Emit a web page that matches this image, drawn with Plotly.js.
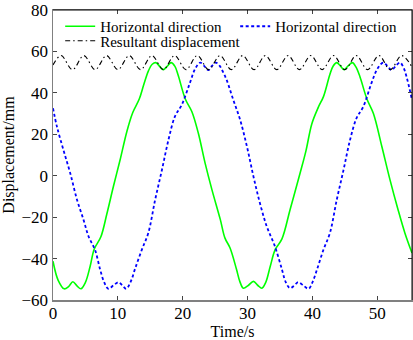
<!DOCTYPE html>
<html>
<head>
<meta charset="utf-8">
<script src="https://cdn.plot.ly/plotly-3.0.1.min.js"></script>
<style>html,body{margin:0;padding:0;background:#fff;}#chart{width:413px;height:340px;}</style>
</head>
<body>
<div id="chart"></div>
<script>
// Horizontal direction (green)
var greenT = [0, 0.8, 1.73, 2.4, 3.06, 3.7, 4.3, 5.0, 5.73, 6.35, 7.38, 8.3, 9.32, 10.35, 11.4, 12.3, 13.3, 14.0, 14.7, 15.3, 15.85, 16.45, 17.0, 17.6, 18.2, 18.8, 19.3, 20.4, 21.4, 22.4, 23.45, 24.5, 25.8, 26.5, 27.3, 28.3, 28.8, 29.35, 30.1, 30.9, 31.6, 32.2, 32.8, 33.5, 34.25, 35.3, 36.55, 38.1, 39.0, 39.9, 40.9, 41.7, 42.7, 43.2, 43.75, 44.3, 44.9, 45.5, 46.15, 46.7, 47.3, 48.4, 49.4, 50.7, 51.95, 53.2, 54.25, 55.35];
var greenV = [-41.3, -50.5, -54.6, -53.5, -51.2, -53.2, -54.6, -51.5, -43.7, -35.5, -29.5, -18.5, -5.1, 7.7, 21.5, 30.5, 37.0, 44.0, 50.5, 53.8, 54.6, 52.8, 51.2, 52.8, 54.6, 52.8, 48.5, 37.0, 31.0, 20.6, 6.1, -6.7, -21.2, -30.0, -34.9, -45.3, -51.0, -54.3, -53.0, -51.0, -53.0, -54.3, -51.5, -43.7, -35.7, -30.5, -16.4, 1.3, 12.0, 25.0, 33.0, 38.2, 49.0, 53.0, 54.6, 53.0, 51.2, 53.0, 54.6, 52.5, 48.0, 37.0, 30.0, 14.1, -1.9, -16.4, -27.6, -37.3];
// Horizontal direction (blue)
var blueT = [0, 0.6, 1.6, 2.65, 3.7, 4.7, 5.47, 6.5, 7.27, 7.9, 8.55, 9.3, 10.1, 10.7, 11.3, 12.0, 12.7, 13.7, 14.7, 15.75, 16.8, 17.8, 18.8, 19.85, 21.1, 21.9, 22.7, 23.3, 23.95, 24.5, 25.1, 25.7, 26.3, 26.8, 27.8, 28.85, 29.9, 30.9, 31.9, 32.95, 34.2, 35.3, 35.9, 36.55, 37.2, 37.8, 38.6, 39.4, 40.0, 40.7, 41.7, 42.7, 43.75, 44.8, 45.8, 46.8, 47.85, 49.1, 50.0, 50.9, 51.55, 52.2, 52.85, 53.5, 54.0, 54.5, 55.35];
var blueV = [32.6, 23.8, 12.5, 1.3, -11.6, -21.2, -29.2, -36.0, -45.3, -51.5, -54.6, -53.0, -51.4, -53.0, -54.6, -51.0, -44.5, -35.7, -27.6, -11.6, 2.9, 17.3, 28.6, 34.2, 44.7, 51.5, 54.6, 53.0, 51.0, 53.0, 54.6, 53.0, 49.5, 46.0, 36.6, 27.0, 14.1, -0.3, -13.2, -24.4, -34.0, -45.3, -51.5, -54.3, -53.0, -51.4, -53.0, -54.6, -51.5, -45.3, -35.7, -27.6, -11.6, 2.9, 17.3, 27.8, 33.4, 44.7, 51.5, 54.6, 53.0, 51.0, 53.0, 54.6, 52.5, 47.9, 36.6];
// Resultant displacement (black)
var resT = [0, 1.25, 3.0, 4.75, 6.5, 8.25, 10.0, 11.75, 13.5, 15.25, 17.0, 18.75, 20.5, 22.25, 24.0, 25.75, 27.5, 29.25, 31.0, 32.75, 34.5, 36.25, 38.0, 39.75, 41.5, 43.25, 45.0, 46.75, 48.5, 50.25, 52.0, 53.75, 55.35];
var resV = [53.5, 58.0, 51.2, 58.0, 51.2, 58.0, 51.2, 58.0, 51.2, 58.0, 51.2, 58.0, 51.2, 58.0, 51.2, 58.0, 51.2, 58.0, 51.2, 58.0, 51.2, 58.0, 51.2, 58.0, 51.2, 58.0, 51.2, 58.0, 51.2, 58.0, 51.2, 58.0, 52.5];

var seriesNames = ['Horizontal direction', 'Horizontal direction', 'Resultant displacement'];
var xTitle = 'Time/s';
var yTitle = 'Displacement/mm';

var FONT = "'Liberation Serif', 'Times New Roman', Times, serif";

var traces = [
  {x: greenT, y: greenV, type: 'scatter', mode: 'lines', name: seriesNames[0],
   line: {color: '#00ff00', width: 1.6, shape: 'spline', smoothing: 1}, legend: 'legend'},
  {x: blueT, y: blueV, type: 'scatter', mode: 'lines', name: seriesNames[1],
   line: {color: '#0000ff', width: 1.8, dash: '3px,2.5px', shape: 'spline', smoothing: 1}, legend: 'legend'},
  {x: resT, y: resV, type: 'scatter', mode: 'lines', name: seriesNames[2],
   line: {color: '#000000', width: 1.1, dash: '5px,3px,1.5px,3px', shape: 'spline', smoothing: 1}, legend: 'legend2'}
];

var layout = {
  width: 413, height: 340,
  margin: {l: 53, r: 1, t: 10, b: 40},
  paper_bgcolor: '#fff', plot_bgcolor: '#fff',
  font: {family: FONT, color: '#000', size: 15},
  showlegend: true,
  legend: {orientation: 'h', x: 0.02, xanchor: 'left', y: 1, yanchor: 'top',
    bgcolor: 'rgba(0,0,0,0)', font: {family: FONT, size: 15, color: '#000'},
    entrywidth: 130, entrywidthmode: 'pixels', traceorder: 'normal'},
  legend2: {orientation: 'h', x: 0.02, xanchor: 'left', y: 0.95, yanchor: 'top',
    bgcolor: 'rgba(0,0,0,0)', font: {family: FONT, size: 15, color: '#000'}},
  xaxis: {range: [0, 55.35], dtick: 10, tick0: 0, ticks: 'inside', ticklen: 4, tickcolor: '#444',
    showline: true, linecolor: '#808080', linewidth: 1.5, mirror: 'allticks', showgrid: false, zeroline: false,
    ticklabelstandoff: -3,
    tickfont: {family: FONT, size: 17, color: '#000'},
    title: {text: xTitle, font: {family: FONT, size: 16, color: '#000'}, standoff: 4}},
  yaxis: {range: [-60, 80], dtick: 20, tick0: 0, ticks: 'inside', ticklen: 4, tickcolor: '#444',
    showline: true, linecolor: '#808080', linewidth: 1.5, mirror: 'allticks', showgrid: false, zeroline: false,
    tickfont: {family: FONT, size: 17, color: '#000'},
    title: {text: yTitle, font: {family: FONT, size: 16, color: '#000'}, standoff: 6}},
  shapes: [
    {type: 'line', xref: 'paper', yref: 'paper', x0: 0, x1: 1, y0: 1, y1: 1, line: {color: '#000', width: 1}},
    {type: 'line', xref: 'paper', yref: 'paper', x0: 1, x1: 1, y0: 0, y1: 1, line: {color: '#000', width: 1}}
  ]
};

Plotly.newPlot('chart', traces, layout, {displayModeBar: false, staticPlot: true});
</script>
</body>
</html>
